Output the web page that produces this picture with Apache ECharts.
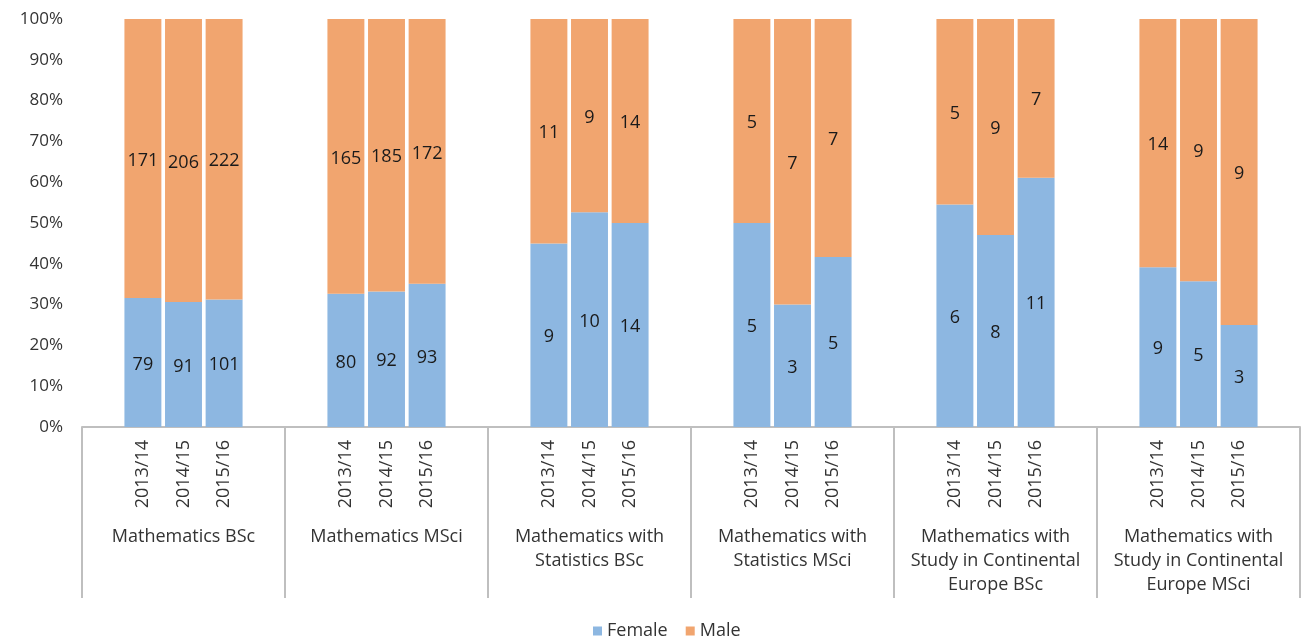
<!DOCTYPE html>
<html>
<head>
<meta charset="utf-8">
<script src="https://cdn.jsdelivr.net/npm/echarts@6/dist/echarts.min.js"></script>
<style>
html, body { margin: 0; padding: 0; background: #fff; }
#chart { width: 1307px; height: 639px; }
</style>
</head>
<body>
<div id="chart"></div>
<script>
// programmes (group labels on the lower axis)
var groups = [
    'Mathematics BSc',
    'Mathematics MSci',
    'Mathematics with\nStatistics BSc',
    'Mathematics with\nStatistics MSci',
    'Mathematics with\nStudy in Continental\nEurope BSc',
    'Mathematics with\nStudy in Continental\nEurope MSci'
];
var years = ['2013/14', '2014/15', '2015/16'];

// head counts, 3 years per programme, in group order
var female = [79, 91, 101, 80, 92, 93, 9, 10, 14, 5, 3, 5, 6, 8, 11, 9, 5, 3];
var male = [171, 206, 222, 165, 185, 172, 11, 9, 14, 5, 7, 7, 5, 9, 7, 14, 9, 9];

var FONT = '"Open Sans", sans-serif';
var TEXT = '#333333';
var AXIS = '#bfbfbf';

// each programme gets an empty slot before and after its 3 years (like the excel sheet)
var slots = [], femaleData = [], maleData = [];
groups.forEach(function (g, gi) {
    slots.push('');
    femaleData.push('-');
    maleData.push('-');
    years.forEach(function (y, yi) {
        var k = gi * years.length + yi;
        var tot = female[k] + male[k];
        slots.push(y);
        femaleData.push({value: female[k] / tot, count: female[k]});
        maleData.push({value: male[k] / tot, count: male[k]});
    });
    slots.push('');
    femaleData.push('-');
    maleData.push('-');
});

var chart = echarts.init(document.getElementById('chart'));

var labelOpt = {
    show: true,
    position: 'inside',
    offset: [0, 2],
    color: '#1a1a1a',
    fontFamily: FONT,
    fontSize: 18,
    formatter: function (p) { return p.data.count; }
};

chart.setOption({
    animation: false,
    textStyle: {fontFamily: FONT},
    grid: {left: 82, right: 7, top: 19, bottom: 212, containLabel: false},
    legend: {
        data: ['Female', 'Male'],
        left: 588,
        top: 617,
        icon: 'rect',
        itemWidth: 9,
        itemHeight: 9,
        itemGap: 18,
        textStyle: {color: TEXT, fontSize: 18, fontFamily: FONT}
    },
    xAxis: [{
        type: 'category',
        data: slots,
        axisLine: {lineStyle: {color: AXIS, width: 2}},
        axisTick: {show: false},
        axisLabel: {
            interval: 0,
            rotate: 90,
            margin: 13,
            color: TEXT,
            fontSize: 18,
            fontFamily: FONT
        }
    }, {
        type: 'category',
        data: groups,
        position: 'bottom',
        axisLine: {show: false},
        axisTick: {show: true, interval: 0, length: 171, lineStyle: {color: AXIS, width: 2}},
        axisLabel: {
            interval: 0,
            margin: 98,
            color: TEXT,
            fontSize: 18,
            lineHeight: 24,
            fontFamily: FONT
        }
    }],
    yAxis: {
        type: 'value',
        min: 0,
        max: 1,
        interval: 0.1,
        splitLine: {show: false},
        axisLine: {show: false},
        axisTick: {show: false},
        axisLabel: {
            margin: 19,
            color: TEXT,
            fontSize: 17,
            fontFamily: FONT,
            formatter: function (v) { return Math.round(v * 100) + '%'; }
        }
    },
    series: [{
        name: 'Female',
        type: 'bar',
        stack: 'all',
        barCategoryGap: '9%',
        itemStyle: {color: '#8db7e1'},
        label: labelOpt,
        data: femaleData
    }, {
        name: 'Male',
        type: 'bar',
        stack: 'all',
        barCategoryGap: '9%',
        itemStyle: {color: '#f1a56f'},
        label: labelOpt,
        data: maleData
    }]
});
</script>
</body>
</html>
